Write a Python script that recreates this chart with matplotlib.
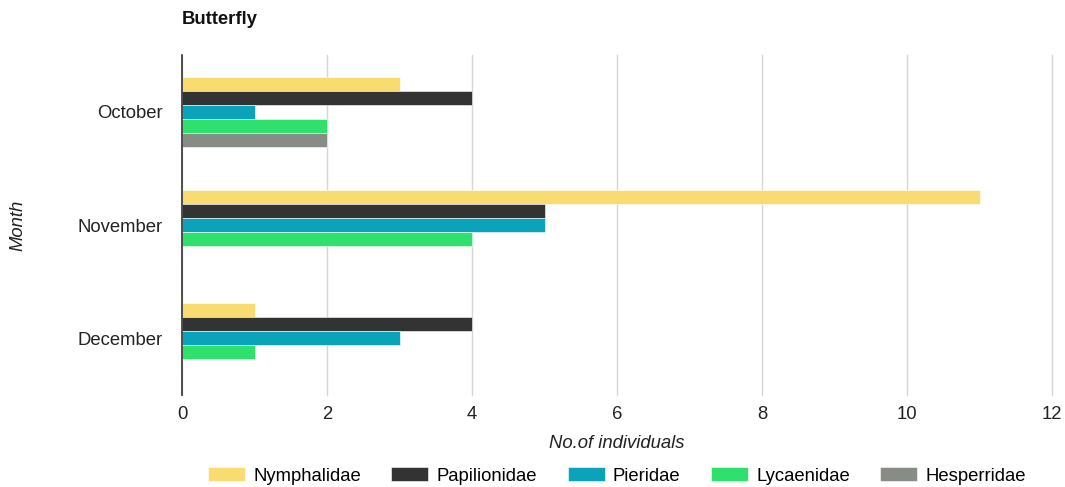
import numpy as np
import matplotlib.pyplot as plt

plt.rcParams['font.family'] = ['Liberation Sans', 'DejaVu Sans']

months = ["October", "November", "December"]
families = ["Nymphalidae", "Papilionidae", "Pieridae", "Lycaenidae", "Hesperridae"]
nymphalidae = [3, 11, 1]
papilionidae = [4, 5, 4]
pieridae = [1, 5, 3]
lycaenidae = [2, 4, 1]
hesperridae = [2, 0, 0]
colors = ["#f8dc72", "#333333", "#0aa3ba", "#2ee06c", "#878c85"]

series = [nymphalidae, papilionidae, pieridae, lycaenidae, hesperridae]
fs = 13.3

fig = plt.figure(figsize=(10.65, 4.87), dpi=100)
ax = fig.add_axes([182 / 1065, 1 - 395 / 487, 870 / 1065, 340 / 487])

y = np.arange(len(months))
h = 0.1235
for i, (name, vals, col) in enumerate(zip(families, series, colors)):
    ax.barh(y + (i - 2) * h, vals, height=h, color=col, label=name,
            edgecolor='white', linewidth=0.4, zorder=3)

ax.set_ylim(2.5, -0.5)
ax.set_xlim(0, 12)
ax.set_xticks(range(0, 13, 2))
ax.set_yticks(y)
ax.set_yticklabels(months)

ax.grid(axis='x', color='#d6d6d6', linewidth=1, zorder=0)
ax.grid(axis='y', visible=False)
for gl in ax.get_xgridlines():
    gl.set_clip_on(False)
for s in ['top', 'right', 'bottom']:
    ax.spines[s].set_visible(False)
ax.spines['left'].set_color('#333333')
ax.spines['left'].set_linewidth(1.2)
ax.spines['left'].set_zorder(4)
ax.tick_params(axis='both', length=0, labelsize=fs, colors='#222222')
ax.tick_params(axis='x', pad=8)
ax.tick_params(axis='y', pad=14)

ax.set_xlabel("No.of individuals", fontsize=fs, style='italic', color='#222222')
ax.xaxis.label.set_va('center')
ax.xaxis.set_label_coords(0.5, (395 - 443) / 340)
ax.set_ylabel("Month", fontsize=fs, style='italic', color='#222222')
ax.yaxis.label.set_va('center')
ax.yaxis.set_label_coords((18 - 182) / 870, 0.5)

ax.text(0, (395 - 20) / 340, "Butterfly", transform=ax.transAxes,
        ha='left', va='center', fontsize=13.3, fontweight='bold', color='#111111')

fig.legend(loc='center', bbox_to_anchor=(617 / 1065, 1 - 476 / 487), ncol=5,
           frameon=False, fontsize=fs, handlelength=2.0, handleheight=0.75,
           handletextpad=0.45, columnspacing=1.65, borderaxespad=0)

fig.savefig('out.png', dpi=100)
